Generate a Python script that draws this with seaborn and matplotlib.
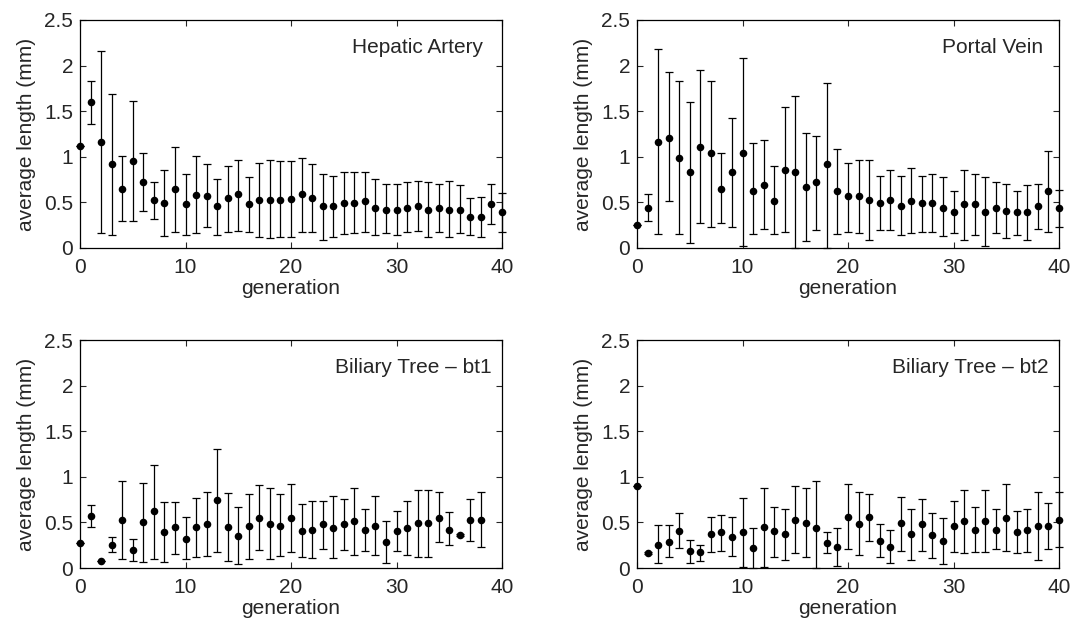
import matplotlib
matplotlib.use("Agg")
import matplotlib.pyplot as plt
import seaborn as sns
import pandas as pd

# average branch length per generation (mean, upper, lower)
gen_41 = list(range(41))
gen_39 = list(range(39))

ha_mean = [1.12, 1.60, 1.16, 0.92, 0.65, 0.95, 0.72, 0.53, 0.49, 0.65, 0.48, 0.58, 0.57, 0.46,
           0.55, 0.59, 0.48, 0.53, 0.53, 0.53, 0.54, 0.59, 0.55, 0.46, 0.46, 0.49, 0.49, 0.51,
           0.44, 0.42, 0.42, 0.44, 0.46, 0.42, 0.44, 0.42, 0.42, 0.34, 0.34, 0.48, 0.39]
ha_upper = [1.12, 1.83, 2.16, 1.69, 1.01, 1.61, 1.04, 0.72, 0.86, 1.11, 0.81, 1.01, 0.92, 0.76,
            0.90, 0.97, 0.78, 0.93, 0.97, 0.95, 0.95, 0.99, 0.92, 0.81, 0.79, 0.83, 0.83, 0.83,
            0.76, 0.70, 0.70, 0.72, 0.74, 0.72, 0.70, 0.74, 0.69, 0.55, 0.56, 0.70, 0.60]
ha_lower = [1.12, 1.36, 0.16, 0.14, 0.30, 0.30, 0.41, 0.32, 0.13, 0.18, 0.14, 0.16, 0.23, 0.14,
            0.18, 0.19, 0.18, 0.12, 0.11, 0.12, 0.12, 0.18, 0.18, 0.09, 0.12, 0.15, 0.16, 0.18,
            0.14, 0.16, 0.14, 0.17, 0.19, 0.12, 0.18, 0.12, 0.16, 0.14, 0.12, 0.26, 0.18]

pv_mean = [0.25, 0.44, 1.16, 1.21, 0.99, 0.83, 1.11, 1.04, 0.65, 0.83, 1.04, 0.63, 0.69, 0.51,
           0.86, 0.83, 0.67, 0.72, 0.92, 0.62, 0.57, 0.57, 0.53, 0.49, 0.53, 0.46, 0.51, 0.49,
           0.49, 0.44, 0.39, 0.48, 0.48, 0.39, 0.44, 0.41, 0.39, 0.39, 0.46, 0.62, 0.44]
pv_upper = [0.25, 0.59, 2.18, 1.93, 1.83, 1.60, 1.95, 1.83, 1.04, 1.42, 2.08, 1.15, 1.18, 0.90,
            1.55, 1.67, 1.26, 1.23, 1.81, 1.09, 0.93, 0.97, 0.97, 0.79, 0.86, 0.79, 0.88, 0.79,
            0.81, 0.78, 0.63, 0.85, 0.81, 0.78, 0.72, 0.70, 0.63, 0.69, 0.70, 1.06, 0.64]
pv_lower = [0.25, 0.30, 0.15, 0.51, 0.15, 0.05, 0.27, 0.23, 0.27, 0.23, 0.02, 0.15, 0.21, 0.15,
            0.18, 0.00, 0.08, 0.20, 0.00, 0.15, 0.18, 0.16, 0.09, 0.20, 0.20, 0.14, 0.16, 0.18,
            0.18, 0.13, 0.16, 0.09, 0.14, 0.02, 0.16, 0.11, 0.14, 0.09, 0.21, 0.18, 0.23]

bt1_mean = [0.27, 0.57, 0.08, 0.25, 0.53, 0.20, 0.50, 0.62, 0.39, 0.45, 0.32, 0.45, 0.48, 0.75,
            0.45, 0.35, 0.46, 0.55, 0.48, 0.46, 0.55, 0.41, 0.42, 0.48, 0.44, 0.48, 0.51, 0.42,
            0.46, 0.29, 0.41, 0.44, 0.49, 0.49, 0.55, 0.42, 0.36, 0.53, 0.53]
bt1_upper = [0.27, 0.69, 0.08, 0.34, 0.95, 0.32, 0.93, 1.13, 0.72, 0.72, 0.56, 0.77, 0.83, 1.30,
             0.82, 0.67, 0.81, 0.91, 0.88, 0.81, 0.92, 0.70, 0.74, 0.74, 0.79, 0.76, 0.88, 0.65,
             0.79, 0.51, 0.63, 0.74, 0.85, 0.86, 0.83, 0.61, 0.37, 0.76, 0.83]
bt1_lower = [0.27, 0.45, 0.08, 0.17, 0.10, 0.08, 0.07, 0.10, 0.07, 0.15, 0.10, 0.12, 0.13, 0.17,
             0.08, 0.04, 0.10, 0.20, 0.10, 0.13, 0.18, 0.12, 0.11, 0.21, 0.11, 0.20, 0.14, 0.19,
             0.14, 0.05, 0.19, 0.14, 0.12, 0.12, 0.28, 0.25, 0.35, 0.30, 0.23]

bt2_mean = [0.90, 0.16, 0.25, 0.29, 0.41, 0.19, 0.17, 0.37, 0.40, 0.34, 0.39, 0.22, 0.45, 0.41,
            0.37, 0.53, 0.49, 0.44, 0.27, 0.23, 0.56, 0.48, 0.56, 0.30, 0.23, 0.49, 0.37, 0.48,
            0.36, 0.30, 0.46, 0.51, 0.42, 0.51, 0.42, 0.55, 0.39, 0.42, 0.46, 0.46, 0.53]
bt2_upper = [0.90, 0.17, 0.47, 0.47, 0.60, 0.31, 0.25, 0.56, 0.58, 0.56, 0.77, 0.44, 0.88, 0.67,
             0.65, 0.90, 0.88, 0.95, 0.39, 0.44, 0.92, 0.83, 0.81, 0.48, 0.42, 0.78, 0.65, 0.76,
             0.60, 0.55, 0.74, 0.86, 0.67, 0.86, 0.65, 0.92, 0.63, 0.65, 0.83, 0.71, 0.83]
bt2_lower = [0.90, 0.15, 0.05, 0.12, 0.22, 0.05, 0.08, 0.17, 0.19, 0.13, 0.01, 0.00, 0.01, 0.12,
             0.09, 0.16, 0.12, 0.00, 0.16, 0.02, 0.21, 0.14, 0.30, 0.12, 0.05, 0.19, 0.09, 0.19,
             0.11, 0.04, 0.18, 0.16, 0.18, 0.18, 0.21, 0.19, 0.16, 0.18, 0.09, 0.21, 0.23]

titles = ["Hepatic Artery", "Portal Vein", "Biliary Tree \u2013 bt1", "Biliary Tree \u2013 bt2"]
title_x = [38.2, 38.5, 39.0, 39.0]
yticks = [0, 0.5, 1, 1.5, 2, 2.5]
ytick_labels = ["0", "0.5", "1", "1.5", "2", "2.5"]
xticks = [0, 10, 20, 30, 40]

sns.set_style("ticks")
plt.rcParams['font.family'] = ['Liberation Sans', 'DejaVu Sans']
FS = 15

fig = plt.figure(figsize=(10.78, 6.27), dpi=100)
W, H = 1078, 627
w, h = 422 / W, 228 / H
positions = [[80 / W, 1 - 248 / H, w, h], [637 / W, 1 - 248 / H, w, h],
             [80 / W, 1 - 568 / H, w, h], [637 / W, 1 - 568 / H, w, h]]

panels = [(gen_41, ha_mean, ha_upper, ha_lower),
          (gen_41, pv_mean, pv_upper, pv_lower),
          (gen_39, bt1_mean, bt1_upper, bt1_lower),
          (gen_41, bt2_mean, bt2_upper, bt2_lower)]

for i, (gen, mean, upper, lower) in enumerate(panels):
    ax = fig.add_axes(positions[i])
    df = pd.DataFrame({"generation": gen, "length": mean,
                       "upper": upper, "lower": lower})
    yerr = [df["length"] - df["lower"], df["upper"] - df["length"]]
    eb = ax.errorbar(df["generation"], df["length"], yerr=yerr, fmt="none",
                     ecolor="black", elinewidth=0.9, capsize=3, capthick=0.9)
    for art in list(eb.lines[1]) + list(eb.lines[2]):
        art.set_clip_on(False)
    sns.scatterplot(data=df, x="generation", y="length", color="black", s=30,
                    linewidth=0, ax=ax, clip_on=False, zorder=3, legend=False)

    ax.set_xlim(0, 40)
    ax.set_ylim(0, 2.5)
    ax.set_xticks(xticks)
    ax.set_yticks(yticks)
    ax.set_yticklabels(ytick_labels)
    ax.tick_params(direction="in", top=True, right=True, length=4, width=0.8,
                   labelsize=FS)
    ax.tick_params(axis="x", pad=7)
    ax.tick_params(axis="y", pad=5)
    for sp in ax.spines.values():
        sp.set_visible(True)
        sp.set_linewidth(0.9)
        sp.set_color("black")
    ax.set_xlabel("generation", fontsize=FS, labelpad=2)
    ax.set_ylabel("average length (mm)", fontsize=FS, labelpad=6)
    ax.text(title_x[i], 2.2, titles[i], ha="right", va="center", fontsize=FS)

plt.savefig("out.png", dpi=100)
